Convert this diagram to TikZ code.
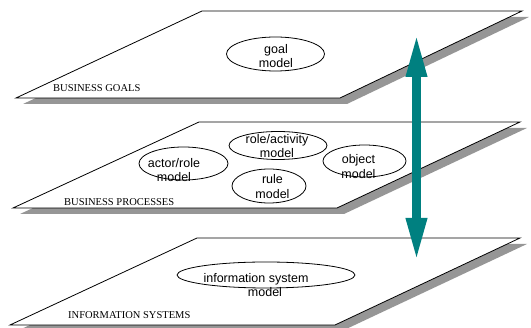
\documentclass[tikz,border=0pt]{standalone}
\usepackage{fontspec}
\setmainfont{Liberation Serif}
\newfontfamily\arialfont{Liberation Sans}
\usetikzlibrary{shapes.geometric,arrows.meta}
\definecolor{arrowteal}{RGB}{0,128,128}
\definecolor{shadowgray}{RGB}{150,150,150}
\tikzset{
  plane/.style={draw=black, fill=white, line width=0.8pt, line join=miter},
  planeshadow/.style={fill=shadowgray, shift={(7,6)}},
  model/.style={ellipse, draw=black, line width=0.8pt, inner sep=0pt, fill=white},
  modeltext/.style={font=\arialfont\fontsize{12.5}{14.5}\selectfont, align=center, inner sep=0pt},
  layername/.style={font=\fontsize{10.5}{12}\selectfont, anchor=base west, inner sep=0pt},
  linkarrow/.style={arrowteal, line width=9pt,
    {Triangle[width=19pt,length=44pt]}-{Triangle[width=19pt,length=44pt]}}
}
\begin{document}
\begin{tikzpicture}[x=1pt,y=-1pt]
  \useasboundingbox (0,0) rectangle (531,328);

  % layer 1: business goals
  \fill[planeshadow] (202,11) -- (522,11) -- (340,98) -- (16,98) -- cycle;
  \draw[plane] (202,11) -- (522,11) -- (340,98) -- (16,98) -- cycle;
  \node[layername] (goalslayer) at (53,92) {BUSINESS GOALS};
  \node[model, minimum width=98pt, minimum height=34pt] (goal) at (275.5,54) {};
  \node[modeltext] (goaltext) at (276,56) {goal\\model};

  % layer 2: business processes
  \fill[planeshadow] (199,122) -- (520,122) -- (337,208) -- (13,208) -- cycle;
  \draw[plane] (199,122) -- (520,122) -- (337,208) -- (13,208) -- cycle;
  \node[layername] (processlayer) at (64,205.5) {BUSINESS PROCESSES};
  \node[model, minimum width=98pt, minimum height=28pt] (roleact) at (278,145.5) {};
  \node[modeltext] (roleacttext) at (277,146) {role/activity\\model};
  \node[model, minimum width=89pt, minimum height=33pt] (actor) at (183.5,163.5) {};
  \node[modeltext] (actortext) at (174,170) {actor/role\\model};
  \node[model, minimum width=74pt, minimum height=34pt] (rule) at (269,186) {};
  \node[modeltext] (ruletext) at (272.5,186.5) {rule\\model};
  \node[model, minimum width=83pt, minimum height=32pt] (object) at (364.5,161) {};
  \node[modeltext] (objecttext) at (358.5,166.5) {object\\model};

  % layer 3: information systems
  \fill[planeshadow] (197,238) -- (520,238) -- (335,325) -- (10,325) -- cycle;
  \draw[plane] (197,238) -- (520,238) -- (335,325) -- (10,325) -- cycle;
  \node[layername] (islayer) at (68,319) {INFORMATION SYSTEMS};
  \node[model, minimum width=178pt, minimum height=26pt] (infosys) at (266,275) {};
  \node[modeltext, align=center] (infosystext) at (256,285) {information system\\\hspace*{18pt}model};

  % alignment arrow between the layers
  \coordinate (arrowtop) at (416.5,33);
  \coordinate (arrowbottom) at (416.5,262);
  \draw[linkarrow] (arrowbottom) -- (arrowtop);
\end{tikzpicture}
\end{document}
